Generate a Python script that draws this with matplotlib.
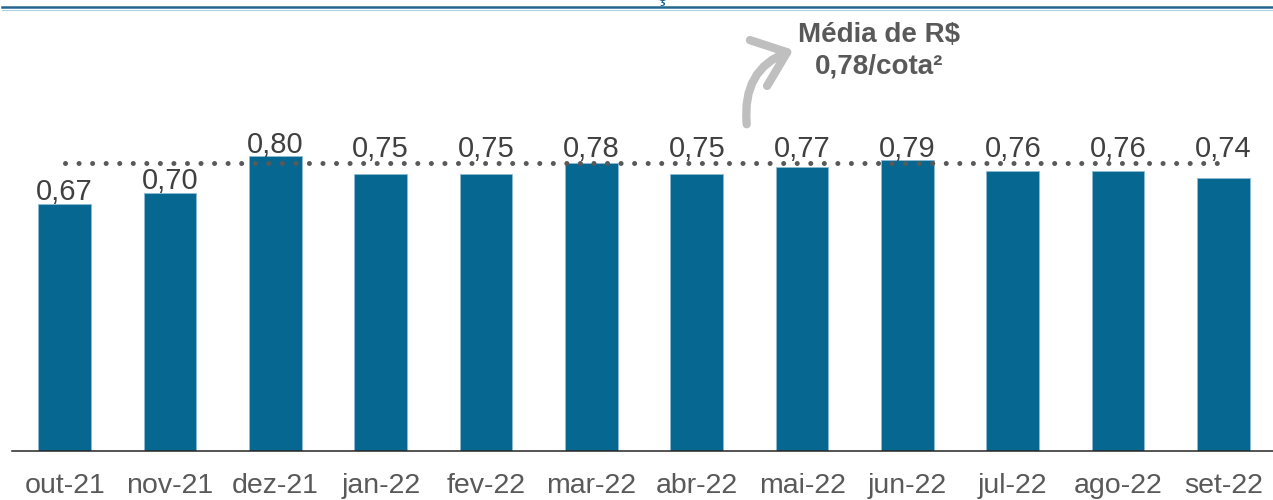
import numpy as np
import matplotlib.pyplot as plt
from matplotlib.patches import FancyArrowPatch
from matplotlib.lines import Line2D

## Dados
meses = ["out-21", "nov-21", "dez-21", "jan-22", "fev-22", "mar-22",
         "abr-22", "mai-22", "jun-22", "jul-22", "ago-22", "set-22"]
valores = [0.67, 0.70, 0.80, 0.75, 0.75, 0.78, 0.75, 0.77, 0.79, 0.76, 0.76, 0.74]
media = 0.78
texto_media = "Média de R$\n0,78/cota²"

plt.rcParams['font.family'] = ['Liberation Sans', 'DejaVu Sans']

W, H = 1273, 500
fig = plt.figure(figsize=(W/100, H/100), dpi=100)
ax = fig.add_axes([12/W, 49/H, 1 - 12/W, 1 - 49/H])
ppu = 368.7  # pixels por unidade no eixo y

x = np.arange(len(meses))
ax.bar(x, valores, width=0.5, color="#066890", edgecolor="#8fbdd3", linewidth=0.6, zorder=2)
ax.plot([x[0], x[-1]], [media, media], color="#595959", lw=3.6,
        ls=(0, (0.01, 2.7)), dash_capstyle="round", zorder=3)

# rótulos: os que ficariam sob a linha da média sobem para cima dela
for xi, v in zip(x, valores):
    if v < 0.72:
        y = v + 4/ppu
    else:
        y = max(v + 3/ppu, 294/ppu)
    ax.text(xi, y, ("%.2f" % v).replace(".", ","), ha="center", va="baseline",
            fontsize=21, color="#404040", zorder=4)

ax.set_xlim(-0.5, 11.47)
ax.set_ylim(0, 451/ppu)
ax.set_xticks(x)
ax.set_xticklabels(meses, fontsize=20.5, color="#595959")
ax.tick_params(axis="x", length=0, pad=16)
ax.set_yticks([])
for s in ["top", "right", "left"]:
    ax.spines[s].set_visible(False)
ax.spines["bottom"].set_color("#262626")
ax.spines["bottom"].set_linewidth(1.1)

# linha do topo
fig.add_artist(Line2D([2/W, 1], [1 - 7/H, 1 - 7/H], color="#22668f", lw=1.8))
fig.add_artist(Line2D([2/W, 1], [1 - 9.5/H, 1 - 9.5/H], color="#a9d3de", lw=0.8))
fig.text(662/W, 1 - 1/H, "ç", fontsize=18, color="#22668f", ha="center", va="baseline")

# texto da média e seta
fig.text(879/W, 1 - 51/H, texto_media, fontsize=20, fontweight="bold", color="#595959",
         ha="center", va="center", linespacing=1.27)
seta = FancyArrowPatch((747/W, 1 - 127/H), (796/W, 1 - 49/H), transform=fig.transFigure,
                       connectionstyle="arc3,rad=-0.4", arrowstyle="->,head_length=1.0,head_width=0.8",
                       mutation_scale=22, color="#bfbfbf", lw=6, capstyle="round")
fig.add_artist(seta)

fig.savefig("out.png", dpi=100)
